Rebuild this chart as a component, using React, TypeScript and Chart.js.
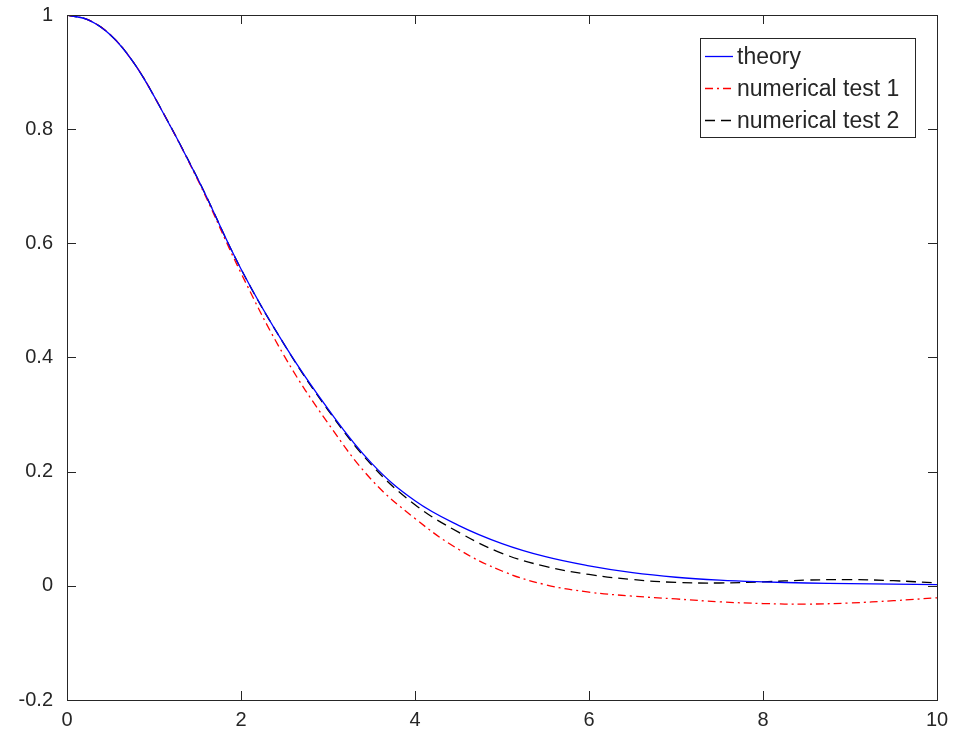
import React, { useEffect, useRef } from "react";
import { Chart, registerables } from "chart.js";

Chart.register(...registerables);

const xs = [0, 0.25, 0.5, 0.75, 1, 1.5, 2, 2.5, 3, 3.5, 4, 4.5, 5, 5.5, 6, 6.5, 7, 7.5, 8, 8.5, 9, 9.5, 10];
const theory = [1.0, 0.991, 0.965, 0.92, 0.858, 0.714, 0.555, 0.422, 0.31, 0.215, 0.149, 0.106, 0.074, 0.051, 0.035, 0.023, 0.015, 0.01, 0.007, 0.005, 0.004, 0.003, 0.002];
const test1 = [1.0, 0.991, 0.965, 0.92, 0.858, 0.712, 0.548, 0.402, 0.285, 0.186, 0.118, 0.064, 0.026, 0.002, -0.011, -0.018, -0.023, -0.028, -0.031, -0.032, -0.030, -0.026, -0.021];
const test2 = [1.0, 0.991, 0.965, 0.92, 0.858, 0.714, 0.555, 0.422, 0.308, 0.212, 0.142, 0.094, 0.057, 0.034, 0.02, 0.011, 0.006, 0.005, 0.007, 0.01, 0.011, 0.009, 0.005];

const seriesLabels = ["theory", "numerical test 1", "numerical test 2"];
const seriesColors = ["#0000ff", "#ff0000", "#000000"];
const seriesDashes: number[][] = [[], [8, 4, 2, 4], [10, 6]];

const xTicks = [0, 2, 4, 6, 8, 10];
const yTicks = [-0.2, 0, 0.2, 0.4, 0.6, 0.8, 1];

const AXIS = "#262626";
const FONT = "'Liberation Sans', Arial, Helvetica, sans-serif";

const boxPlugin = {
  id: "matlabBox",
  afterDraw(chart: any) {
    const { ctx, chartArea: a, scales } = chart;
    ctx.save();
    ctx.strokeStyle = AXIS;
    ctx.lineWidth = 1;
    ctx.setLineDash([]);
    ctx.strokeRect(Math.round(a.left) + 0.5, Math.round(a.top) + 0.5, Math.round(a.right - a.left), Math.round(a.bottom - a.top));
    const tl = 9;
    ctx.beginPath();
    for (const v of xTicks) {
      const px = Math.round(scales.x.getPixelForValue(v)) + 0.5;
      ctx.moveTo(px, a.bottom);
      ctx.lineTo(px, a.bottom - tl);
      ctx.moveTo(px, a.top);
      ctx.lineTo(px, a.top + tl);
    }
    for (const v of yTicks) {
      const py = Math.round(scales.y.getPixelForValue(v)) + 0.5;
      ctx.moveTo(a.left, py);
      ctx.lineTo(a.left + tl, py);
      ctx.moveTo(a.right, py);
      ctx.lineTo(a.right - tl, py);
    }
    ctx.stroke();

    // legend
    const lx = 700, ly = 38, lw = 215, lh = 99;
    ctx.fillStyle = "#ffffff";
    ctx.fillRect(lx, ly, lw, lh);
    ctx.strokeStyle = AXIS;
    ctx.strokeRect(lx + 0.5, ly + 0.5, lw, lh);
    ctx.font = `23px ${FONT}`;
    ctx.textBaseline = "middle";
    ctx.textAlign = "left";
    chart.data.datasets.forEach((ds: any, i: number) => {
      const cy = ly + 18 + i * 32;
      ctx.strokeStyle = ds.borderColor;
      ctx.lineWidth = 1.3;
      ctx.setLineDash(ds.borderDash || []);
      ctx.beginPath();
      ctx.moveTo(lx + 5, cy + 0.5);
      ctx.lineTo(lx + 33, cy + 0.5);
      ctx.stroke();
      ctx.setLineDash([]);
      ctx.fillStyle = AXIS;
      ctx.fillText(ds.label, lx + 37, cy + 2);
    });
    ctx.restore();
  },
};

export default function App() {
  const ref = useRef<HTMLCanvasElement | null>(null);
  useEffect(() => {
    if (!ref.current) return;
    const series = [theory, test1, test2];
    const chart = new Chart(ref.current, {
      type: "line",
      data: {
        datasets: series.map((arr, i) => ({
          label: seriesLabels[i],
          data: xs.map((x, j) => ({ x, y: arr[j] })),
          borderColor: seriesColors[i],
          borderWidth: 1.3,
          borderDash: seriesDashes[i],
          pointRadius: 0,
          fill: false,
          tension: 0.4,
        })),
      },
      options: {
        animation: false,
        responsive: false,
        maintainAspectRatio: false,
        layout: { padding: { top: 15, right: 18, left: 0, bottom: 0 } },
        plugins: { legend: { display: false }, tooltip: { enabled: false } },
        scales: {
          x: {
            type: "linear",
            min: 0,
            max: 10,
            afterBuildTicks: (s: any) => { s.ticks = xTicks.map((v) => ({ value: v })); },
            afterFit: (s: any) => { s.height = 42; s.paddingLeft = 0; s.paddingRight = 0; },
            grid: { display: false, drawTicks: false },
            border: { display: false },
            ticks: { color: AXIS, font: { family: FONT, size: 20 }, padding: 8, callback: (v: any) => String(v), maxRotation: 0 },
          },
          y: {
            type: "linear",
            min: -0.2,
            max: 1,
            afterBuildTicks: (s: any) => { s.ticks = yTicks.map((v) => ({ value: v })); },
            afterFit: (s: any) => { s.width = 67; s.paddingTop = 0; s.paddingBottom = 0; },
            grid: { display: false, drawTicks: false },
            border: { display: false },
            ticks: { color: AXIS, font: { family: FONT, size: 20 }, padding: 14, callback: (v: any) => String(Math.round(Number(v) * 10) / 10) },
          },
        },
      },
      plugins: [boxPlugin],
    });
    return () => chart.destroy();
  }, []);
  return (
    <div style={{ position: "fixed", left: 0, top: 0, width: 955, height: 742, background: "#fff" }}>
      <canvas ref={ref} width={955} height={742} style={{ width: 955, height: 742, display: "block" }} />
    </div>
  );
}
